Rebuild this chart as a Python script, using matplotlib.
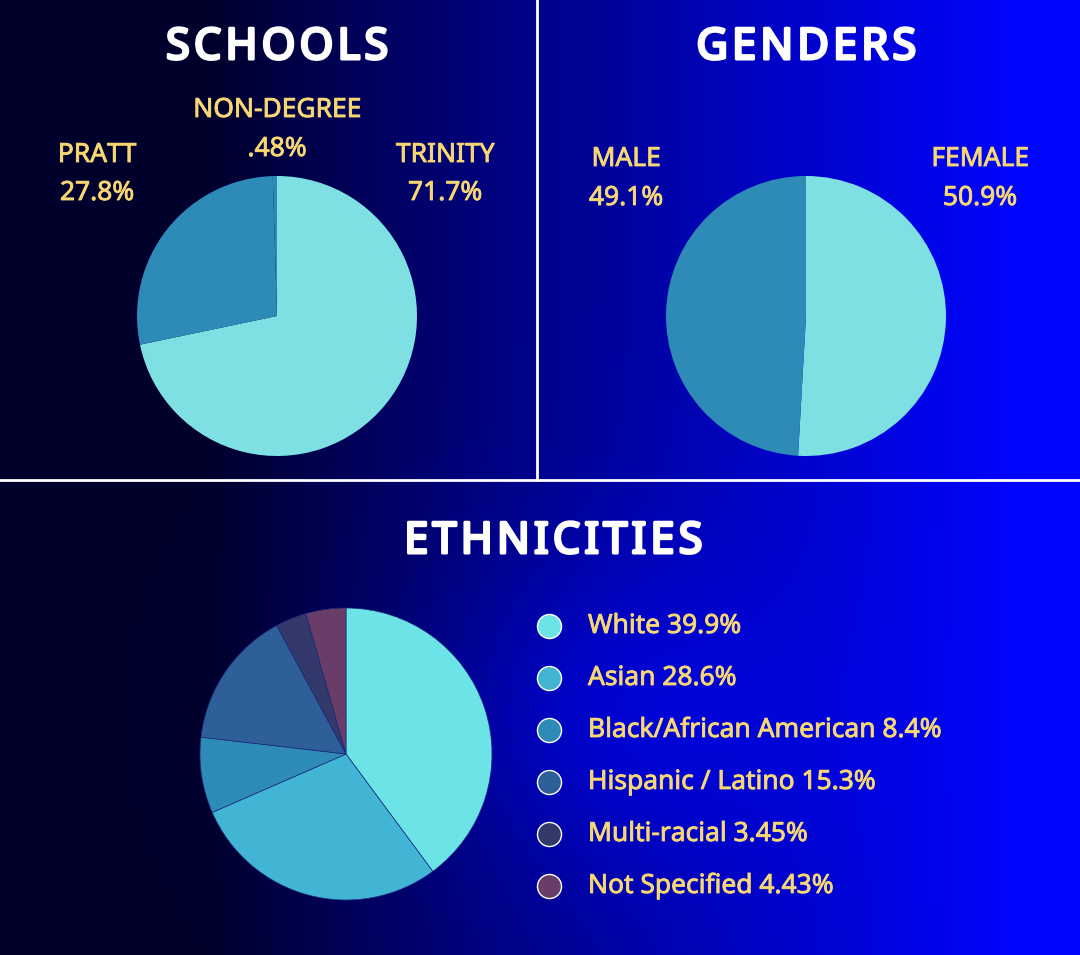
import numpy as np
import matplotlib
matplotlib.use("Agg")
import matplotlib.pyplot as plt
import matplotlib.patheffects as pe

school_labels = ["TRINITY", "PRATT", "NON-DEGREE"]
school_values = [71.7, 27.8, 0.48]
gender_labels = ["FEMALE", "MALE"]
gender_values = [50.9, 49.1]
eth_labels = ["White", "Asian", "Black/African American", "Hispanic / Latino", "Multi-racial", "Not Specified"]
eth_values = [39.9, 28.6, 8.4, 15.3, 3.45, 4.43]
eth_text = ["39.9%", "28.6%", "8.4%", "15.3%", "3.45%", "4.43%"]

W, H = 1080, 955
fig = plt.figure(figsize=(W/100, H/100), dpi=100)
bg = fig.add_axes([0, 0, 1, 1])
x = np.linspace(0, 1, 400)
y = np.linspace(0, 1, 360)
X, Y = np.meshgrid(x, y)
t = np.clip((X - 0.2) / 0.75, 0, 1) ** 0.9
t = t + 0.25 * np.exp(-((X - 0.55) ** 2 + (Y - 0.75) ** 2) / 0.03)
t = np.clip(t, 0, 1)
dark = np.array([0.0, 0.0, 0.18])
bright = np.array([0.0, 0.02, 1.0])
img = dark + (bright - dark) * t[..., None]
bg.imshow(img, extent=[0, W, H, 0], aspect="auto")
bg.plot([537, 537], [0, 480], color="white", lw=2)
bg.plot([0, W], [480, 480], color="white", lw=2)
bg.set_xlim(0, W); bg.set_ylim(H, 0); bg.axis("off")

FONT = "Noto Sans"
YEL = "#f7d774"

def pie_ax(cx, cy, r):
    return fig.add_axes([(cx - r) / W, 1 - (cy + r) / H, 2 * r / W, 2 * r / H])

def finish(ax):
    ax.set_xlim(-1, 1); ax.set_ylim(-1, 1); ax.set_aspect("equal"); ax.axis("off")

ax1 = pie_ax(277, 316, 140)
ax1.pie(school_values, colors=["#7ee0e3", "#2e8bb8", "#2e8bb8"], startangle=90, counterclock=False, radius=1)
finish(ax1)
ax2 = pie_ax(806, 316, 140)
ax2.pie(gender_values, colors=["#7ee0e3", "#2e8bb8"], startangle=90, counterclock=False, radius=1)
finish(ax2)
ax3 = pie_ax(346, 754, 146)
eth_colors = ["#6ce3e6", "#42b4d4", "#2e8bb8", "#2f5f98", "#333a6b", "#6a3d68"]
ax3.pie(eth_values, colors=eth_colors, startangle=90, counterclock=False, radius=1,
        wedgeprops=dict(edgecolor="#1a2a80", linewidth=0.5))
finish(ax3)

def txt(px, py, s, size, color=YEL, stroke=0.6, ha="center"):
    bg.text(px, py, s, fontsize=size, color=color, family=FONT, ha=ha, va="center",
            path_effects=[pe.withStroke(linewidth=stroke, foreground=color)])

def spaced(s):
    return "\u200a".join(s)

txt(277, 48, spaced("SCHOOLS"), 31, "white", 2.2)
txt(806, 48, spaced("GENDERS"), 31, "white", 2.2)
txt(553, 542, spaced("ETHNICITIES"), 31, "white", 2.2)

LS = 19
txt(445, 155, school_labels[0], LS); txt(445, 193, f"{school_values[0]}%", LS)
txt(97, 155, school_labels[1], LS); txt(97, 193, f"{school_values[1]}%", LS)
txt(277, 110, school_labels[2], LS); txt(277, 149, ".48%", LS)
txt(980, 159, gender_labels[0], LS); txt(980, 198, f"{gender_values[0]}%", LS)
txt(626, 159, gender_labels[1], LS); txt(626, 198, f"{gender_values[1]}%", LS)

for i, (lab, v, c) in enumerate(zip(eth_labels, eth_text, eth_colors)):
    yy = 626 + i * 52
    bg.scatter([549], [yy], s=300, color=c, edgecolor="white", linewidth=1, zorder=5)
    txt(588, yy, f"{lab} {v}", LS, ha="left")

fig.savefig("out.png", dpi=100)
